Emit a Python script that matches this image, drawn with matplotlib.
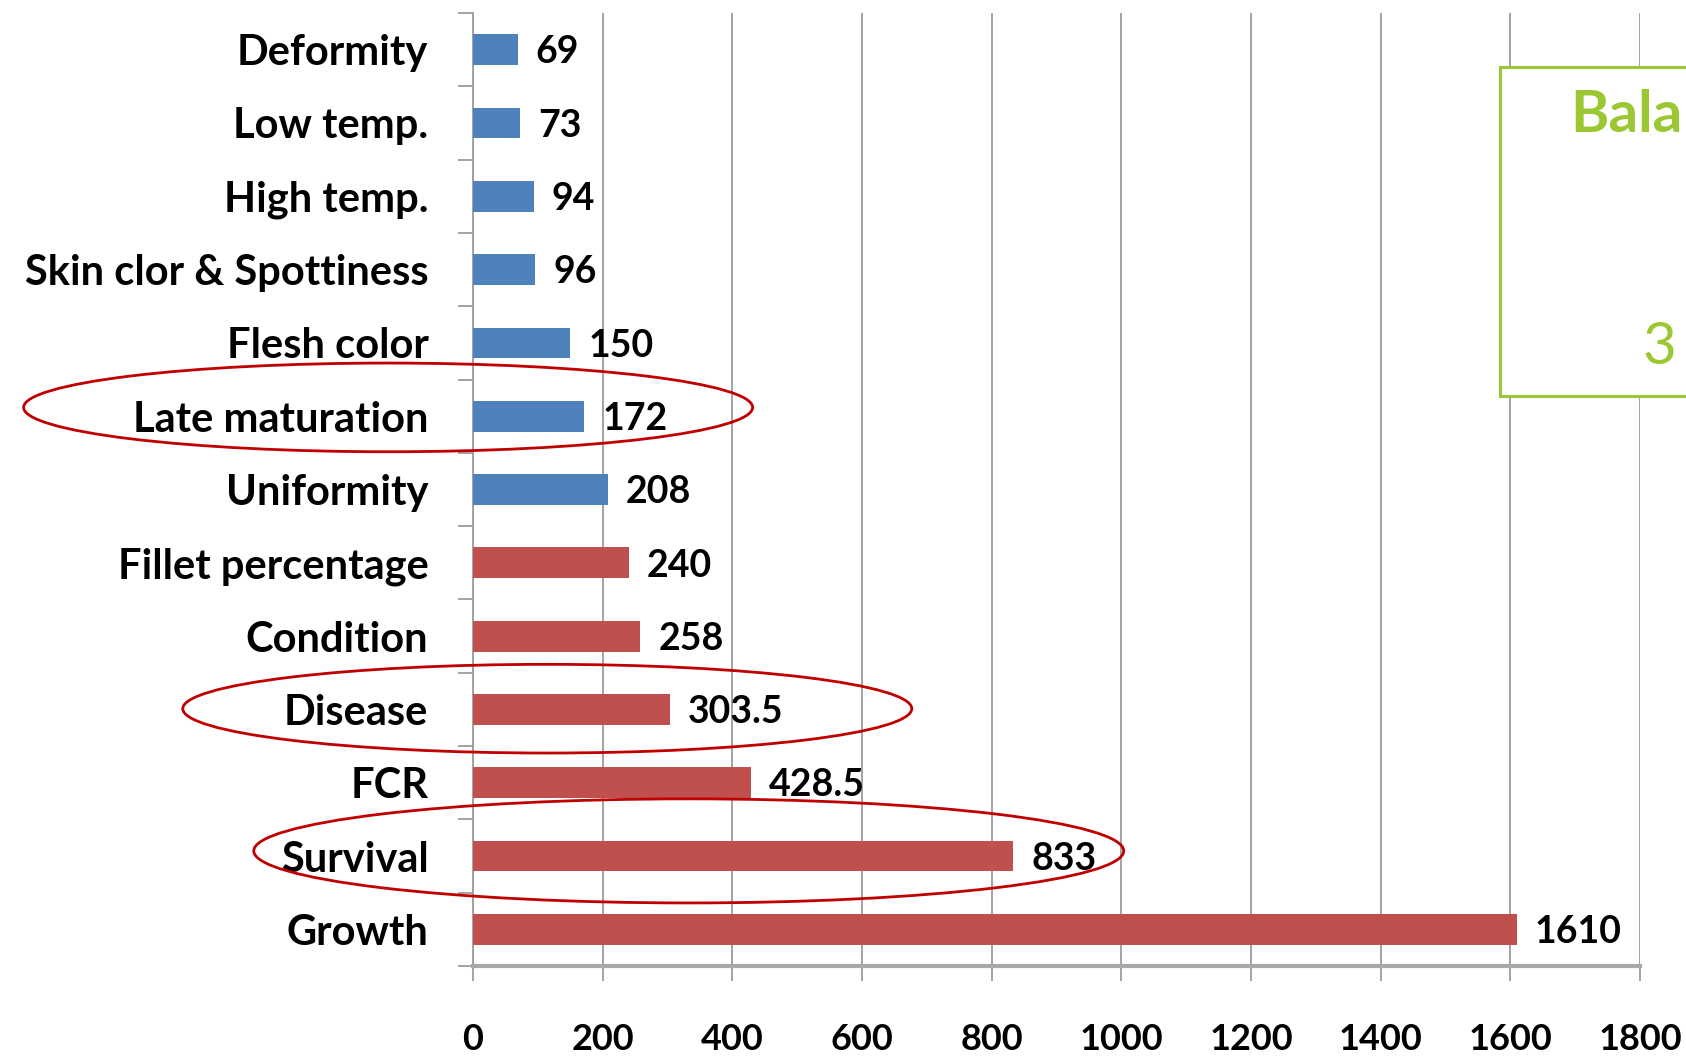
import numpy as np
import matplotlib
matplotlib.use("Agg")
import matplotlib.pyplot as plt
from matplotlib.patches import Ellipse, Rectangle
from matplotlib.transforms import blended_transform_factory

# Trait weights, listed top to bottom
categories = ["Deformity", "Low temp.", "High temp.", "Skin clor & Spottiness",
              "Flesh color", "Late maturation", "Uniformity", "Fillet percentage",
              "Condition", "Disease", "FCR", "Survival", "Growth"]
values = [69, 73, 94, 96, 150, 172, 208, 240, 258, 303.5, 428.5, 833, 1610]
groups = ["blue"] * 7 + ["red"] * 6
highlighted = ["Late maturation", "Disease", "Survival"]
x_ticks = [0, 200, 400, 600, 800, 1000, 1200, 1400, 1600, 1800]

palette = {"blue": "#4F81BD", "red": "#C0504D"}
label_font = ["Lato", "DejaVu Sans"]
grid_grey = "#9C9C9C"

fig = plt.figure(figsize=(16.86, 10.6), dpi=100)
ax = fig.add_axes([0.2805, 0.0887, 0.6922, 0.899])

y = np.arange(len(categories))
ax.barh(y, values, height=0.42, color=[palette[g] for g in groups], zorder=3)

for yi, v in zip(y, values):
    ax.annotate(f"{v:g}", xy=(v, yi), xytext=(13, -2), textcoords="offset points",
                ha="left", va="center", fontsize=27, fontweight="bold",
                family=label_font, color="black", zorder=4)

ax.set_xlim(0, 1800)
ax.set_ylim(len(categories) - 0.5, -0.5)
ax.set_xticks(x_ticks)
ax.set_xticklabels([str(t) for t in x_ticks], fontsize=26, fontweight="bold",
                   family=label_font)
ax.set_yticks(y)
ax.set_yticklabels(categories, fontsize=30, fontweight="bold", family=label_font)
ax.set_yticks(np.arange(-0.5, len(categories), 1), minor=True)

ax.grid(axis="x", color=grid_grey, lw=1.3, zorder=0)
ax.set_axisbelow(True)
for s in ("top", "right"):
    ax.spines[s].set_visible(False)
ax.spines["left"].set_color(grid_grey)
ax.spines["left"].set_linewidth(1.3)
ax.spines["bottom"].set_color("#A8A8A8")
ax.spines["bottom"].set_linewidth(3)

ax.tick_params(axis="x", length=11, width=1.3, color=grid_grey, pad=30)
ax.tick_params(axis="y", which="major", length=0, pad=32)
ax.tick_params(axis="y", which="minor", length=11, width=1.3, color=grid_grey)

# Red outlines around the highlighted traits (x in figure fraction, y in data)
blend = blended_transform_factory(fig.transFigure, ax.transData)
ellipse_geom = {"Late maturation": (0.2302, 0.4324, -0.12, 1.21),
                "Disease": (0.3246, 0.4324, -0.01, 1.21),
                "Survival": (0.4085, 0.5160, -0.07, 1.42)}
for name in highlighted:
    cx, w, dy, h = ellipse_geom[name]
    yi = categories.index(name)
    e = Ellipse((cx, yi + dy), w, h, transform=blend, fill=False,
                edgecolor="#C00000", lw=2.0, clip_on=False, zorder=5)
    fig.add_artist(e)

# Green text box at the right edge
green = "#9BC832"
box = Rectangle((1500 / 1686, 1 - 396 / 1060), 0.2, (396 - 67) / 1060,
                transform=fig.transFigure, fill=True, facecolor="white",
                edgecolor=green, lw=2.2, zorder=6)
fig.add_artist(box)
fig.text(1570 / 1686, 1 - 116 / 1060, "Bala", ha="left", va="center",
         fontsize=42, fontweight="bold", family="Lato", color=green, zorder=7)
fig.text(1659 / 1686, 1 - 347 / 1060, "3", ha="center", va="center",
         fontsize=42, family="Lato", color=green, zorder=7)

fig.savefig("out.png", dpi=100)
